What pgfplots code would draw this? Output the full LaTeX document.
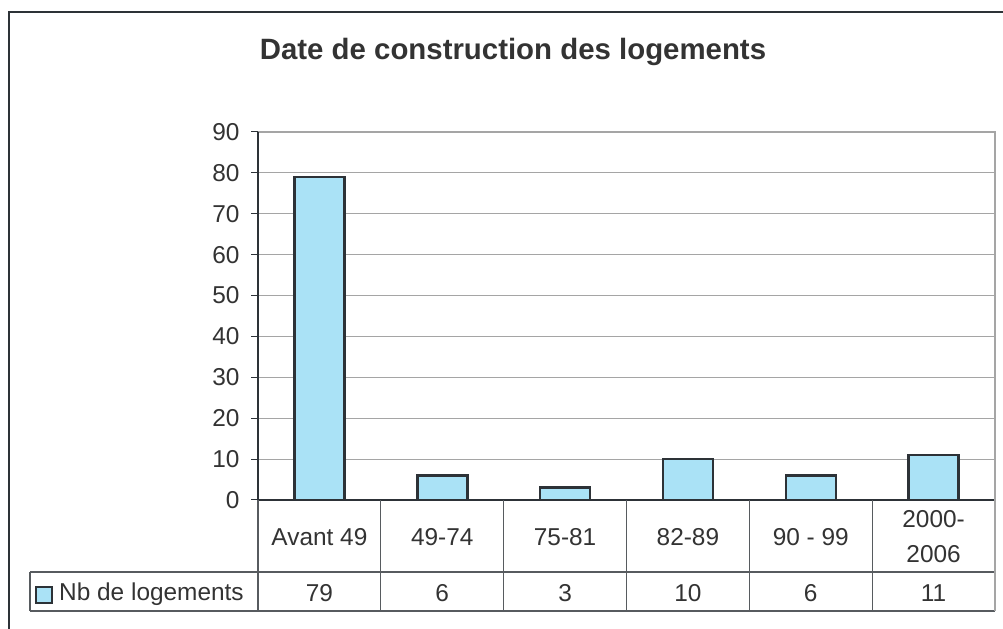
\documentclass[border=0pt]{standalone}
\usepackage{pgfplots}
\pgfplotsset{compat=1.18}
\usepackage{fontspec}
\setmainfont{Liberation Sans}
\definecolor{barfill}{RGB}{170,226,246}
\definecolor{txt}{RGB}{51,51,51}
\definecolor{edge}{RGB}{45,50,55}
\definecolor{gridc}{RGB}{165,165,165}
\newcommand{\tfont}{\fontsize{24.5}{35}\selectfont}
\begin{document}
\begin{tikzpicture}[x=1bp,y=1bp]
\useasboundingbox (0,0) rectangle (1003,629);
\draw[edge, line width=1.5bp] (9,0) -- (9,617) -- (1003,617);
\node[txt, font=\fontsize{29.5}{34}\selectfont\bfseries] at (513,577) {Date de construction des logements};
\begin{axis}[
  at={(258bp,129bp)}, anchor=south west,
  width=737bp, height=368bp, scale only axis,
  xmin=-0.5, xmax=5.5, ymin=0, ymax=90,
  ytick={0,10,...,90},
  xtick={0,...,5},
  xticklabels={Avant 49, 49-74, 75-81, 82-89, 90 - 99, {2000-\\2006}},
  xtick style={draw=none},
  ytick pos=left,
  ytick style={edge, line width=1bp},
  tick align=outside,
  major tick length=7bp,
  ymajorgrids,
  grid style={gridc, line width=0.8bp},
  axis line style={draw=none},
  ticklabel style={font=\tfont, text=txt},
  xticklabel style={anchor=center, yshift=-30bp, align=center},
  yticklabel style={xshift=-8bp},
  /pgf/number format/assume math mode=true,
  clip=false,
  enlarge x limits=false,
]
\addplot[ybar, bar width=50bp, fill=barfill, draw=edge, line width=2.5bp]
  coordinates {(0,79) (1,6) (2,3) (3,10) (4,6) (5,11)};
\draw[gridc, line width=1.2bp] (rel axis cs:0,1) -- (rel axis cs:1,1) -- (rel axis cs:1,0);
\draw[edge, line width=1.5bp] (rel axis cs:0,1) -- (rel axis cs:0,0) -- (rel axis cs:1,0);
\foreach \x/\v in {0/79,1/6,2/3,3/10,4/6,5/11}{
  \edef\tmp{\noexpand\node[txt, font=\noexpand\tfont, yshift=-93bp] at (axis cs:\x,0) {\v};}
  \tmp
}
\end{axis}
% data table grid
\foreach \k in {0,...,6}{
  \draw[edge!80, line width=1.2bp] ({258+\k*122.83},129) -- ({258+\k*122.83},18);
}
\draw[edge!80, line width=1.2bp] (30,57) -- (995,57);
\draw[edge!80, line width=1.2bp] (30,18) -- (995,18);
\draw[edge!80, line width=1.2bp] (30,57) -- (30,18);
\draw[gridc, line width=1.2bp] (995,497) -- (995,18);
\draw[edge, fill=barfill, line width=2.5bp] (36,26) rectangle (52,42);
\node[anchor=west, txt, font=\tfont, inner sep=0pt] at (59,35) {Nb de logements};
\end{tikzpicture}
\end{document}
